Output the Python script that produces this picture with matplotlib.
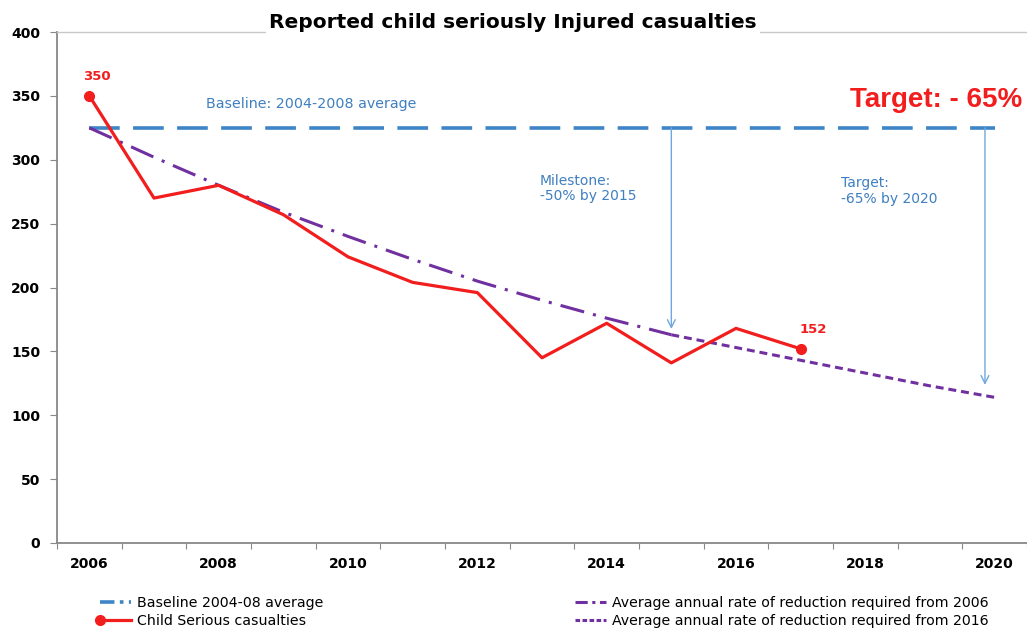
import matplotlib.pyplot as plt
from matplotlib.lines import Line2D
from matplotlib.legend_handler import HandlerLine2D

plt.rcParams["font.family"] = ["DejaVu Sans"]

years = list(range(2006, 2018))
casualties = [350, 270, 280, 257, 224, 204, 196, 145, 172, 141, 168, 152]

baseline = 325
baseline_years = [2006, 2020]

trend_2006_years = list(range(2006, 2016))
trend_2006 = [325, 302, 280, 259, 240, 222, 205, 190, 176, 163]

trend_2016_years = list(range(2015, 2021))
trend_2016 = [163, 153, 143, 133, 123, 114]

milestone_year, milestone_cut = 2015, 0.50
target_year, target_cut = 2019.85, 0.65

year_labels = ["2006", "2008", "2010", "2012", "2014", "2016", "2018", "2020"]

RED = "#f21d1d"
BLUE = "#3d85c6"
PURPLE = "#7030a0"
NOTE_BLUE = "#3f7fc0"
ARROW_BLUE = "#6fa8dc"


class LeftMarkerHandler(HandlerLine2D):
    # legend line with its marker sitting at the left end
    def create_artists(self, *args, **kwargs):
        artists = super().create_artists(*args, **kwargs)
        for a in artists:
            a.set_markevery([0])
        return artists


fig = plt.figure(figsize=(10.27, 6.3), dpi=100)
ax = fig.add_axes([57 / 1027, 87 / 630, 970 / 1027, 511 / 630])

ax.plot(baseline_years, [baseline, baseline], color=BLUE, lw=2.6,
        dashes=(8.5, 3.7), solid_capstyle="butt", dash_capstyle="butt")
ax.plot(trend_2006_years, trend_2006, color=PURPLE, lw=2.2,
        dashes=(8, 3, 1, 3), dash_capstyle="butt")
ax.plot(trend_2016_years, trend_2016, color=PURPLE, lw=2.2,
        dashes=(2.6, 1.6), dash_capstyle="butt")
ax.plot(years, casualties, color=RED, lw=2.3, marker="o", markersize=7,
        markevery=[0, len(years) - 1])

# value labels on first and latest year
ax.text(years[0] + 0.12, casualties[0] + 10, str(casualties[0]), color=RED,
        fontsize=9.5, fontweight="bold", ha="center", va="bottom")
ax.text(years[-1] + 0.2, casualties[-1] + 10, str(casualties[-1]), color=RED,
        fontsize=9.5, fontweight="bold", ha="center", va="bottom")

# milestone / target arrows down from the baseline
ax.annotate("", xy=(milestone_year, baseline * (1 - milestone_cut) + 5),
            xytext=(milestone_year, baseline),
            arrowprops=dict(arrowstyle="->", color=ARROW_BLUE, lw=1.0,
                            shrinkA=0, shrinkB=0, mutation_scale=14))
ax.annotate("", xy=(target_year, baseline * (1 - target_cut) + 10),
            xytext=(target_year, baseline),
            arrowprops=dict(arrowstyle="->", color=ARROW_BLUE, lw=1.0,
                            shrinkA=0, shrinkB=0, mutation_scale=14))

ax.text(2007.81, 344, "Baseline: 2004-2008 average", color=NOTE_BLUE,
        fontsize=10.3, va="center", ha="left")
ax.text(2012.97, 289, "Milestone:\n-50% by 2015", color=NOTE_BLUE,
        fontsize=10, va="top", ha="left", linespacing=1.15)
ax.text(2017.62, 287, "Target:\n-65% by 2020", color=NOTE_BLUE,
        fontsize=10, va="top", ha="left", linespacing=1.15)
ax.text(2020.42, 347, "Target: - 65%", color=RED, fontsize=20,
        family="Liberation Sans", fontweight="bold", va="center", ha="right")

ax.set_xlim(2005.5, 2005.5 + 970 / 65)
ax.set_ylim(0, 400)
ax.set_yticks(range(0, 401, 50))
ax.set_xticks([y + 0.5 for y in range(2005, 2021)])
ax.set_xticklabels([])
ax.set_xticks(range(2006, 2021, 2), minor=True)
ax.set_xticklabels(year_labels, minor=True)
ax.tick_params(axis="x", which="minor", length=0, pad=10)
ax.tick_params(axis="x", which="major", length=4, color="#888888", direction="out")
ax.tick_params(axis="y", length=5, color="#888888", pad=7)
for lbl in ax.get_yticklabels() + ax.get_xticklabels(minor=True):
    lbl.set_fontweight("bold")
    lbl.set_fontsize(10)

ax.spines["right"].set_visible(False)
ax.spines["top"].set_color("#c8c8c8")
ax.spines["top"].set_linewidth(1.0)
for side in ("left", "bottom"):
    ax.spines[side].set_color("#888888")
    ax.spines[side].set_linewidth(1.3)

fig.text(513 / 1027, 1 - 22 / 630, "Reported child seriously Injured casualties",
         fontsize=14.5, fontweight="bold", ha="center", va="center",
         bbox=dict(facecolor="white", edgecolor="none", pad=2))

left_handles = [
    Line2D([], [], color=BLUE, lw=2.6, dashes=(4, 1.5, 1, 1.5)),
    Line2D([], [], color=RED, lw=2.3, marker="o", markersize=7),
]
right_handles = [
    Line2D([], [], color=PURPLE, lw=2.2, dashes=(4, 1.5, 1, 1.5)),
    Line2D([], [], color=PURPLE, lw=2.2, dashes=(1.5, 0.8)),
]
leg_kw = dict(frameon=False, fontsize=10.2, handlelength=2.2, handletextpad=0.4,
              labelspacing=0.3, borderpad=0, borderaxespad=0, loc="upper left",
              numpoints=1, handler_map={Line2D: LeftMarkerHandler()})
fig.legend(left_handles, ["Baseline 2004-08 average", "Child Serious casualties"],
           bbox_to_anchor=(100 / 1027, 1 - 596 / 630), **leg_kw)
fig.legend(right_handles, ["Average annual rate of reduction required from 2006",
                           "Average annual rate of reduction required from 2016"],
           bbox_to_anchor=(575 / 1027, 1 - 596 / 630), **leg_kw)

fig.savefig("out.png", dpi=100)
